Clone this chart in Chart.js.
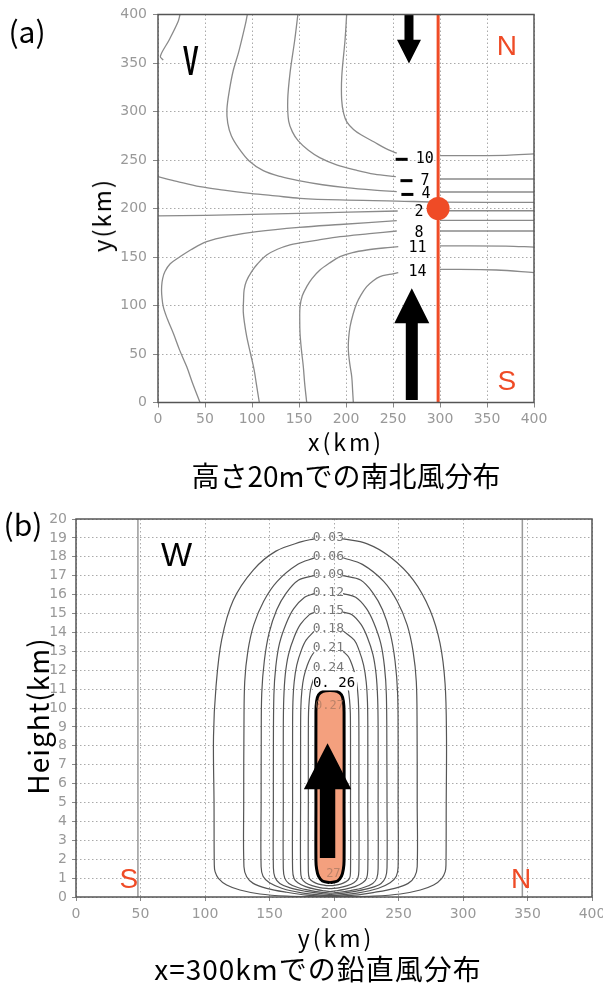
<!DOCTYPE html>
<html>
<head>
<meta charset="utf-8">
<script src="https://cdn.jsdelivr.net/npm/chart.js@4.4.1/dist/chart.umd.min.js"></script>
<style>
  html, body { margin: 0; padding: 0; background: #fff; }
  body { width: 603px; height: 985px; position: relative; overflow: hidden; font-family: "Noto Sans CJK JP", sans-serif; }
  #wrapA { position: absolute; left: 0; top: 0; width: 603px; height: 500px; }
  #wrapB { position: absolute; left: 0; top: 500px; width: 603px; height: 485px; }
  .t { position: absolute; color: #000; white-space: nowrap; line-height: 1; transform: translate(-50%, -50%); }
  .rot { transform: translate(-50%, -50%) rotate(-90deg); }
</style>
</head>
<body>
<div id="wrapA"><canvas id="chartA"></canvas></div>
<div id="wrapB"><canvas id="chartB"></canvas></div>

<div class="t" style="left:27px; top:30px; font-size:30px;">(a)</div>
<div class="t rot" style="left:101px; top:215px; font-size:24px; letter-spacing:2px;">y(km)</div>
<div class="t" style="left:346px; top:441px; font-size:23px; letter-spacing:3px;">x(km)</div>
<div class="t" style="left:346px; top:475px; font-size:28px;">高さ20mでの南北風分布</div>

<div class="t" style="left:23px; top:523px; font-size:30px;">(b)</div>
<div class="t rot" style="left:37px; top:716px; font-size:28px; letter-spacing:1px;">Height(km)</div>
<div class="t" style="left:336px; top:937px; font-size:23px; letter-spacing:3px;">y(km)</div>
<div class="t" style="left:318px; top:968px; font-size:28px; letter-spacing:1px;">x=300kmでの鉛直風分布</div>

<script>
// ---------- (a) meridional wind v at 20 m, plan view ----------
const xTicksA = [0, 50, 100, 150, 200, 250, 300, 350, 400];
const yTicksA = [0, 50, 100, 150, 200, 250, 300, 350, 400];

// contour lines of v (m/s); null separates the part left of the label column
const vM13 = [[23.4,400],[21.3,392.5],[12,374],[2.5,357],[5.5,353]];
const vM10 = [[200.7,400],[199,374],[195.5,336],[195.4,312],[197.5,298],[201,289],[208,281.5],[216,276],[230,268.5],[242,262],[254,257],
              null, [300,254.5],[370,254.8],[400,256.3]];
const vM7  = [[148.8,400],[145.5,374],[140.5,340],[138,312],[139,290],[143,279],[149,270],[160,260],[172,252.5],[190,245],[211,239.5],[230,235.5],[253,232.8],
              null, [300,230.4],[400,230.4]];
const vM4  = [[95,400],[93,390],[86,362],[80,342],[76,322],[73.3,302],[74.2,288],[78,275],[86,262],[97,249],[112,239],[130,233],[151,228.5],[175,224.5],[200,221.5],[230,219],[254,217.5],
              null, [300,217],[400,217]];
const vM1  = [[0,232.8],[20,228],[44.7,222.5],[70,219],[97.9,215.7],[125,213],[151,210.5],[193.6,208.8],[254,207.7],[300,206.6],[400,206.4]];
const vP2  = [[0,192.3],[50,193],[150,195],[255,197.4],
              null, [300,197.7],[400,197.7]];
const vP5  = [[44.7,0],[37.5,18],[30.5,37],[23,54],[16.3,71.3],[10,86],[5.6,98.8],[3.9,112],[3.9,120],[5,128],[7.4,135],[13,143],[23.4,150.3],[35,157.5],[51.8,165.8],[75,171.5],[105,176.1],[150,180.5],[193.6,183.5],[254,187.4],
              null, [300,187.8],[400,187.8]];
const vP8  = [[107.8,0],[104.5,20],[102.3,33.5],[98.5,50],[94.4,67.8],[92,82],[90.7,93.7],[91,105],[91.6,116],[94,125],[99.6,134.9],[106,143],[115.6,152],[127,158],[140.4,162.5],[151,164.5],[170,167.5],[193.6,170.9],[225,174],[254,176.8],
              null, [300,176.8],[400,176.8]];
const vP11 = [[158.2,0],[156,20],[154.6,36.9],[152.5,55],[151.1,71.4],[150.8,85],[151.1,98.8],[153.5,110],[158.2,119.4],[164,128],[172.3,136.6],[182,143.5],[193.6,150.3],[207,154.5],[222,157.2],[240,159.3],[255.6,160.6],
              null, [300,161.5],[370,161.3],[400,160.2]];
const vP14 = [[207.8,0],[207,13],[206.1,26.6],[204,40],[202.5,54.1],[202.8,66],[204.3,78.1],[207.5,91],[211.4,102.3],[216,111],[222,119.4],[229,125.5],[236.2,129.7],[246,132],[255.6,133.8],
              null, [300,137.3],[360,136.6],[400,133.8]];
const vContours = [vM13, vM10, vM7, vM4, vM1, vP2, vP5, vP8, vP11, vP14];

// labelled contour values and where their labels sit
const vLabelLevels = [-10, -7, -4, 2, 8, 11, 14];
const vLabelX = [283.7, 284, 285, 277.7, 277.7, 276, 276];
const vLabelY = [250.7, 228.7, 214.5, 196, 175, 159, 134.8];

// cross-section at x = 298 km and the point on it
const sectionLineA = [[298, 0], [298, 400]];
const sectionPointA = [[298, 200]];

// ---------- (b) vertical wind w along x = 300 km ----------
const xTicksB = [0, 50, 100, 150, 200, 250, 300, 350, 400];
const yTicksB = [0, 1, 2, 3, 4, 5, 6, 7, 8, 9, 10, 11, 12, 13, 14, 15, 16, 17, 18, 19, 20];

const w003 = [[197,0.02],[184,0.02],[163.3,0.05],[142.6,0.16],[127.1,0.37],[116.8,0.63],[110.4,0.99],[107.8,1.34],[107.2,1.7],[107,5],[106.6,8.5],[108.5,11.1],[112.9,13.6],[121.9,15.7],[137.4,17.3],[155,18.3],[175,18.8],[184.5,18.95],
              null, [207,18.95],[225.3,18.7],[243.4,18.0],[261.5,16.77],[274.4,15.19],[282.2,13.42],[286.1,11.3],[287.2,8.5],[287,5],[286.8,1.7],[286.2,1.34],[283.6,0.99],[277.2,0.63],[266.9,0.37],[251.4,0.16],[230.7,0.05],[210,0.02],[197,0.02]];
const w006 = [[197,0.04],[178.8,0.1],[163.3,0.25],[147.8,0.46],[137.4,0.72],[132.3,1.07],[130.2,1.6],[130,5],[130.2,9.0],[130.8,11.4],[133.2,13.0],[137.8,14.4],[145.5,15.65],[156,16.7],[172,17.6],[184.5,17.93],
              null, [207,17.95],[222,17.6],[238.5,16.7],[249,15.65],[256.7,14.4],[261.3,13.0],[263.8,11.4],[264.4,9.0],[264.5,5],[264.5,1.6],[262.5,1.07],[257.5,0.72],[247,0.46],[231.5,0.25],[216,0.1],[197,0.04]];
const w009 = [[197,0.08],[190,0.1],[175,0.22],[160,0.45],[150,0.75],[145,1.1],[143.5,1.6],[143.5,5],[143.6,8.4],[144,10.8],[146,12.5],[149.6,13.95],[155.6,15.2],[162.8,16.07],[172.6,16.77],[184.5,17.0],
              null, [207,17.0],[220.6,16.77],[230.4,16.07],[237.6,15.2],[243.6,13.95],[247.3,12.5],[249.3,10.8],[249.7,8.4],[249.7,5],[249.7,1.6],[248.3,1.1],[243.5,0.75],[234,0.45],[219,0.22],[204,0.1],[197,0.08]];
const w012 = [[197,0.14],[190,0.18],[178,0.3],[166,0.48],[158,0.72],[154.2,1.05],[153,1.55],[153,5],[153,7.2],[153.4,10.7],[154.9,12.2],[157.8,13.43],[163.1,14.5],[168.8,15.26],[177.2,15.86],[184.5,16.05],
              null, [207,16.05],[216.8,15.86],[225.2,15.26],[230.9,14.5],[236.2,13.43],[239.1,12.2],[240.6,10.7],[241,7.2],[241.1,5],[241.1,1.55],[240,1.05],[236.5,0.72],[228.5,0.48],[216.5,0.3],[204,0.18],[197,0.14]];
const w015 = [[197,0.2],[192,0.24],[182,0.34],[172,0.5],[165,0.72],[161.8,1.0],[160.7,1.5],[160.7,5],[160.7,8.9],[161.05,10.48],[162.25,11.78],[164.75,12.84],[169.15,13.76],[173.95,14.42],[180.95,14.94],[184.5,15.05],
              null, [207,15.07],[213.95,14.94],[220.95,14.42],[225.75,13.76],[230.15,12.84],[232.65,11.78],[233.85,10.48],[234.2,8.9],[234.2,5],[234.2,1.5],[233.2,1.0],[230,0.72],[223,0.5],[213,0.34],[203,0.24],[197,0.2]];
const w018 = [[197,0.29],[193,0.32],[186,0.4],[178,0.55],[172,0.75],[169,0.98],[167.9,1.45],[167.9,5],[167.9,9.0],[168.15,10.31],[169.15,11.39],[171.15,12.27],[174.65,13.05],[178.35,13.59],[184.5,14.05],
              null, [207,14.08],[215.75,13.59],[219.45,13.05],[222.95,12.27],[224.95,11.39],[225.95,10.31],[226.2,9.0],[226.2,5],[226.2,1.45],[225.2,0.98],[222.2,0.75],[216.2,0.55],[208,0.4],[201,0.32],[197,0.29]];
const w021 = [[197,0.44],[189,0.5],[183,0.6],[178,0.76],[175,0.98],[174.1,1.4],[174.1,5],[174.1,8.5],[174.3,10.03],[175.1,10.92],[176.6,11.63],[179.3,12.26],[182.2,12.71],[184.5,12.95],
              null, [207,13.0],[211.2,12.71],[214.1,12.26],[216.8,11.63],[218.3,10.92],[219.1,10.03],[219.3,8.5],[219.3,5],[219.3,1.4],[218.4,0.98],[215.4,0.76],[210.4,0.6],[204.4,0.5],[197,0.44]];
const w024 = [[197,0.6],[193,0.62],[188,0.68],[184,0.8],[181,0.98],[180.1,1.35],[180.1,5],[180.1,8.0],[180.25,9.75],[180.85,10.43],[181.85,10.99],[183.85,11.47],[185.95,11.82],[186.5,11.9],
              null, [206.5,11.9],[206.95,11.82],[209.05,11.47],[211.05,10.99],[212.05,10.43],[212.65,9.75],[212.8,8.0],[212.8,5],[212.8,1.35],[212,0.98],[209,0.8],[205,0.68],[200,0.62],[197,0.6]];
const wContours = [w003, w006, w009, w012, w015, w018, w021, w024];
const wLevels = ['0.03', '0.06', '0.09', '0.12', '0.15', '0.18', '0.21', '0.24'];
const wLabelY = [19.0, 18.0, 17.05, 16.1, 15.15, 14.2, 13.2, 12.15];
const wLabelX = 195.6;

// 0.26 m/s region (closed, filled)
const w026 = [[196.9,0.76],[191,0.85],[188,1.1],[186.5,1.5],[186,1.9],[186,5],[186,9.8],[186.5,10.35],[188,10.7],[191.5,10.88],[196.9,10.92],
              [202.3,10.88],[205.8,10.7],[207.3,10.35],[207.8,9.8],[207.8,5],[207.8,1.9],[207.3,1.5],[205.8,1.1],[202.8,0.85],[196.9,0.76]];

// solid reference lines at y = 48 km and y = 346 km
const refLinesB = [[[48, 0], [48, 20]], [[346, 0], [346, 20]]];

// ---------- drawing helpers ----------
const RED = '#ef4b26';
const toXY = pts => pts.map(p => p ? { x: p[0], y: p[1] } : { x: null, y: null });

function lineSet(pts, color, width, order, extra) {
  return Object.assign({
    data: toXY(pts), showLine: true, borderColor: color, borderWidth: width,
    pointRadius: 0, pointHoverRadius: 0, tension: 0.35, fill: false, spanGaps: false, order
  }, extra || {});
}

function axis(ticksArr, min, max, horizontal, size, pad, tickLen) {
  return {
    type: 'linear', min, max,
    afterBuildTicks: s => { s.ticks = ticksArr.map(v => ({ value: v })); },
    afterFit: s => {
      if (horizontal) s.height = size; else s.width = size;
      s.paddingLeft = s.paddingRight = s.paddingTop = s.paddingBottom = 0;
    },
    ticks: { color: '#999', font: { family: 'DejaVu Sans', size: 14 }, padding: pad, maxRotation: 0, autoSkip: false, callback: v => String(v) },
    grid: { color: '#aaa', lineWidth: 1, drawTicks: true, tickLength: tickLen, tickColor: '#888', tickWidth: 1 },
    border: { display: false, dash: [1.5, 2.5] }
  };
}

// annotations: text, arrows, white label boxes and the frame, all placed in data units
const overlay = {
  id: 'overlay',
  afterDatasetsDraw(chart, args, opts) {
    const { ctx, chartArea: a, scales: { x, y } } = chart;
    const px = v => x.getPixelForValue(v), py = v => y.getPixelForValue(v);
    ctx.save();
    for (const it of (opts.items || [])) {
      if (it.type === 'box') {
        ctx.fillStyle = '#fff';
        ctx.fillRect(px(it.x0), py(it.y1), px(it.x1) - px(it.x0), py(it.y0) - py(it.y1));
      } else if (it.type === 'arrow') {
        const cx = px(it.x), yt = py(it.tail), yb = py(it.base), yp = py(it.tip);
        ctx.fillStyle = '#000';
        ctx.beginPath();
        ctx.moveTo(cx - it.shaft, yt); ctx.lineTo(cx - it.shaft, yb); ctx.lineTo(cx - it.head, yb);
        ctx.lineTo(cx, yp); ctx.lineTo(cx + it.head, yb); ctx.lineTo(cx + it.shaft, yb); ctx.lineTo(cx + it.shaft, yt);
        ctx.closePath(); ctx.fill();
      } else if (it.type === 'text') {
        ctx.save();
        ctx.font = it.font; ctx.fillStyle = it.color || '#000';
        ctx.textAlign = 'center'; ctx.textBaseline = 'middle';
        ctx.translate(px(it.x), py(it.y));
        if (it.sx) ctx.scale(it.sx, 1);
        ctx.fillText(it.text, 0, 0);
        if (it.neg) {
          const w = ctx.measureText(it.text).width;
          ctx.fillRect(-w / 2 - 8 - 12, -1.5, 12, 3);
        }
        ctx.restore();
      }
    }
    ctx.strokeStyle = '#555'; ctx.lineWidth = 1.5;
    ctx.strokeRect(a.left, a.top, a.right - a.left, a.bottom - a.top);
    ctx.restore();
  }
};

// ---------- chart (a) ----------
const itemsA = [
  { type: 'text', text: 'V', x: 34.9, y: 349.7, font: 'bold 42px "Liberation Sans"', sx: 0.55 },
  { type: 'text', text: 'N', x: 371, y: 366.5, font: '28px "Liberation Sans"', color: RED },
  { type: 'text', text: 'S', x: 371, y: 20.6, font: '28px "Liberation Sans"', color: RED },
  { type: 'arrow', x: 267, tail: 400, base: 374, tip: 349.5, shaft: 4.5, head: 12 },
  { type: 'arrow', x: 270, tail: 2.5, base: 81.7, tip: 117.8, shaft: 6, head: 17.5 }
];
vLabelLevels.forEach((lv, i) => itemsA.push({
  type: 'text', text: String(Math.abs(lv)), neg: lv < 0, x: vLabelX[i], y: vLabelY[i],
  font: '15px "DejaVu Sans Mono"', color: '#000'
}));

new Chart(document.getElementById('chartA'), {
  type: 'scatter',
  data: {
    datasets: [
      lineSet(sectionPointA, RED, 0, 0, { showLine: false, pointRadius: 11.5, pointBackgroundColor: RED, pointBorderWidth: 0 }),
      lineSet(sectionLineA, RED, 3, 1, { tension: 0 }),
      ...vContours.map(c => lineSet(c, '#8a8a8a', 1.3, 5))
    ]
  },
  options: {
    responsive: true, maintainAspectRatio: false, animation: false, events: [],
    layout: { padding: { left: 98, right: 69, top: 14.5, bottom: 37.5 } },
    plugins: { legend: { display: false }, tooltip: { enabled: false }, overlay: { items: itemsA } },
    scales: {
      x: axis(xTicksA, 0, 400, true, 60, 3, 5),
      y: axis(yTicksA, 0, 400, false, 60, 6, 5)
    }
  },
  plugins: [overlay]
});

// ---------- chart (b) ----------
const itemsB = [
  { type: 'text', text: 'W', x: 78, y: 18.0, font: '33px "Liberation Sans"' },
  { type: 'text', text: 'S', x: 41, y: 0.9, font: '28px "Liberation Sans"', color: RED },
  { type: 'text', text: 'N', x: 345, y: 0.9, font: '28px "Liberation Sans"', color: RED }
];
wLevels.forEach((lv, i) => itemsB.push({
  type: 'text', text: lv, x: wLabelX, y: wLabelY[i], font: '13px "DejaVu Sans Mono"', color: '#777'
}));
itemsB.push({ type: 'text', text: '0.27', x: 196.5, y: 10.1, font: '12px "DejaVu Sans Mono"', color: 'rgba(150,110,90,0.6)' });
itemsB.push({ type: 'text', text: '27', x: 199.5, y: 1.2, font: '12px "DejaVu Sans Mono"', color: 'rgba(150,110,90,0.6)' });
itemsB.push({ type: 'box', x0: 183.7, x1: 217.8, y0: 10.93, y1: 11.9 });
itemsB.push({ type: 'text', text: '0. 26', x: 200, y: 11.3, font: '14px "DejaVu Sans Mono"', color: '#000' });
itemsB.push({ type: 'arrow', x: 195, tail: 2.07, base: 5.7, tip: 8.13, shaft: 7.7, head: 23.7 });

new Chart(document.getElementById('chartB'), {
  type: 'scatter',
  data: {
    datasets: [
      lineSet(w026, '#000', 3, 0, { fill: 'shape', backgroundColor: '#f4a07e' }),
      ...wContours.map(c => lineSet(c, '#555', 1.2, 5)),
      ...refLinesB.map(l => lineSet(l, '#999', 1.5, 6, { tension: 0 }))
    ]
  },
  options: {
    responsive: true, maintainAspectRatio: false, animation: false, events: [],
    layout: { padding: { left: 36, right: 11, top: 19, bottom: 38 } },
    plugins: { legend: { display: false }, tooltip: { enabled: false }, overlay: { items: itemsB } },
    scales: {
      x: axis(xTicksB, 0, 400, true, 50, 5, 4),
      y: axis(yTicksB, 0, 20, false, 40, 5, 4)
    }
  },
  plugins: [overlay]
});
</script>
</body>
</html>
